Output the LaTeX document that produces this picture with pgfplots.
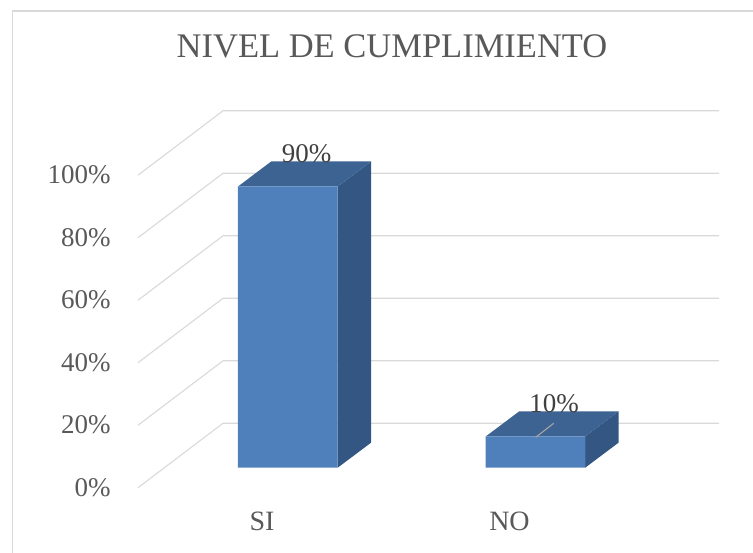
\documentclass[border=0pt]{standalone}
\usepackage{fontspec}
\setmainfont{Liberation Serif}
\usepackage{pgfplots}
\pgfplotsset{compat=1.18}
\definecolor{txt}{HTML}{595959}
\definecolor{lbl}{HTML}{404040}
\definecolor{gridc}{HTML}{D9D9D9}
\definecolor{frontc}{HTML}{4F80BC}
\definecolor{topc}{HTML}{3C6392}
\definecolor{sidec}{HTML}{335682}
\definecolor{leader}{HTML}{A6A6A6}
\begin{document}
\begin{tikzpicture}
\begin{axis}[
  x=1bp, y=3.125bp,
  xmin=0, xmax=753, ymin=-27.296, ymax=149.664,
  axis line style={draw=none},
  tick style={draw=none},
  clip=false,
  /pgf/number format/assume math mode=true,
  ytick={-6.4,13.6,33.6,53.6,73.6,93.6},
  yticklabels={0\%,20\%,40\%,60\%,80\%,100\%},
  yticklabel style={anchor=east, xshift=110.7bp, inner sep=0pt, text=txt,
    font=\fontsize{27bp}{32bp}\selectfont},
  xtick={262,509.5},
  xticklabels={SI,NO},
  xticklabel style={anchor=center, yshift=31.3bp, inner sep=0pt, text=txt,
    font=\fontsize{28bp}{33bp}\selectfont},
  title={NIVEL DE CUMPLIMIENTO},
  title style={at={(rel axis cs:0.5206,0.9052)}, anchor=center, inner sep=0pt,
    text=txt, font=\fontsize{34.5bp}{40bp}\selectfont},
]
% border of the chart area
\draw[gridc, line width=1.1bp] (axis cs:12.7,-27.296) -- (axis cs:12.7,146.14) -- (axis cs:753,146.14);
% 3D gridlines (front edge -> back wall)
\addplot[gridc, line width=1.1bp] coordinates {(138,-6.4) (223,14.21) (719,14.21)};
\addplot[gridc, line width=1.1bp] coordinates {(138,13.6) (223,34.21) (719,34.21)};
\addplot[gridc, line width=1.1bp] coordinates {(138,33.6) (223,54.21) (719,54.21)};
\addplot[gridc, line width=1.1bp] coordinates {(138,53.6) (223,74.21) (719,74.21)};
\addplot[gridc, line width=1.1bp] coordinates {(138,73.6) (223,94.21) (719,94.21)};
\addplot[gridc, line width=1.1bp] coordinates {(138,93.6) (223,114.21) (719,114.21)};
% side faces
\addplot[fill=sidec, draw=none] coordinates {(337.7,0) (337.7,90) (371,98) (371,8)} -- cycle;
\addplot[fill=sidec, draw=none] coordinates {(585.2,0) (585.2,10) (618.5,18) (618.5,8)} -- cycle;
% top faces
\addplot[fill=topc, draw=none] coordinates {(238,90) (337.7,90) (371,98) (271.3,98)} -- cycle;
\addplot[fill=topc, draw=none] coordinates {(485.8,10) (585.2,10) (618.5,18) (519.1,18)} -- cycle;
% front faces with values
\addplot[ybar, bar width=99.7bp, fill=frontc, draw=none,
  nodes near coords={\pgfmathprintnumber{\pgfplotspointmeta}\%},
  every node near coord/.append style={anchor=center, xshift=18.7bp, yshift=33bp,
    inner sep=0pt, text=lbl, font=\fontsize{27bp}{32bp}\selectfont}]
  table[x=x, y=v] {
x v
287.85 90
535.5 10
};
% leader line of the NO label
\addplot[leader, line width=1.1bp] coordinates {(535.7,9.73) (553.7,14.21)};
\end{axis}
\pgfresetboundingbox
\path[use as bounding box] (0,0) rectangle (753bp,553bp);
\end{tikzpicture}
\end{document}
